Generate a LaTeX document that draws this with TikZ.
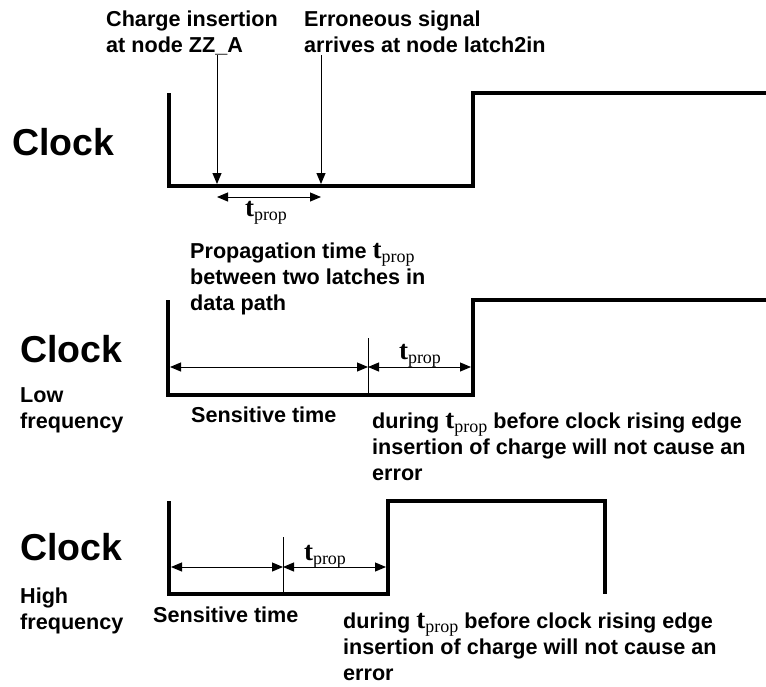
\documentclass[tikz,border=0pt]{standalone}
\usepackage{fontspec}
\setmainfont{Liberation Sans}
\newfontfamily\timesfont{Liberation Serif}
\usetikzlibrary{arrows.meta}

% t_prop in a serif face with a lowered subscript
\newcommand{\tprop}{{\timesfont\fontsize{27}{27}\selectfont t}\raisebox{-4pt}{\timesfont\mdseries\fontsize{18}{18}\selectfont prop}}

\begin{document}
\begin{tikzpicture}[x=1pt,y=-1pt,
    wave/.style={line width=4pt,line join=miter},
    tip/.style={line width=1pt,-{Triangle[length=11pt,width=9pt]}},
    span/.style={line width=1pt,{Triangle[length=11pt,width=9pt]}-{Triangle[length=11pt,width=9pt]}},
    txt/.style={anchor=base west,align=left,inner sep=0pt,font=\fontsize{21.6}{26}\selectfont\bfseries},
    big/.style={anchor=base west,inner sep=0pt,font=\fontsize{37.5}{40}\selectfont\bfseries}]
    \useasboundingbox (0,0) rectangle (766,686);

    % first clock: charge insertion and arrival of the wrong value
    % (multi-line labels sit on the baseline of their last line)
    \draw[wave] (169,93) -- (169,186) -- (473,186) -- (473,93) -- (770,93);
    \node[big] (clockA) at (12,155) {Clock};
    \node[txt] (charge) at (106,52) {Charge insertion\\at node ZZ\_A};
    \node[txt] (wrong) at (304,52) {Erroneous signal\\arrives at node latch2in};
    \coordinate (insTop) at (217,55);
    \coordinate (insBot) at (217,184);
    \coordinate (arrTop) at (321,55);
    \coordinate (arrBot) at (321,184);
    \draw[tip] (insTop) -- (insBot);
    \draw[tip] (arrTop) -- (arrBot);
    \coordinate (insL) at (217,197);
    \coordinate (arrR) at (321,197);
    \draw[span] (insL) -- (arrR);
    \node[anchor=base,inner sep=0pt,font=\bfseries] (tpA) at (266,216) {\tprop};
    \node[txt] (propag) at (190,310) {Propagation time \tprop\\between two latches in\\data path};

    % second clock: low frequency
    \draw[wave] (168,300) -- (168,395) -- (473,395) -- (473,300) -- (770,300);
    \node[big] (clockB) at (20,362) {Clock};
    \node[txt] (low) at (20,428) {Low\\frequency};
    \coordinate (lowL) at (170,367);
    \coordinate (lowM) at (368,367);
    \coordinate (lowR) at (471,367);
    \draw[line width=1pt] (368,338) -- (368,395);
    \draw[span] (lowL) -- (lowM);
    \draw[span] (lowM) -- (lowR);
    \node[anchor=base,inner sep=0pt,font=\bfseries] (tpB) at (420,359) {\tprop};
    \node[txt] (sensB) at (191,422) {Sensitive time};
    \node[txt] (safeB) at (372,480) {during \tprop{} before clock rising edge\\insertion of charge will not cause an\\error};

    % third clock: high frequency
    \draw[wave] (169,501) -- (169,594) -- (388,594) -- (388,501) -- (605,501) -- (605,594);
    \node[big] (clockC) at (20,560) {Clock};
    \node[txt] (high) at (20,629) {High\\frequency};
    \coordinate (highL) at (171,567);
    \coordinate (highM) at (283,567);
    \coordinate (highR) at (386,567);
    \draw[line width=1pt] (283,537) -- (283,594);
    \draw[span] (highL) -- (highM);
    \draw[span] (highM) -- (highR);
    \node[anchor=base,inner sep=0pt,font=\bfseries] (tpC) at (325,560) {\tprop};
    \node[txt] (sensC) at (153,622) {Sensitive time};
    \node[txt] (safeC) at (343,680) {during \tprop{} before clock rising edge\\insertion of charge will not cause an\\error};
\end{tikzpicture}
\end{document}
